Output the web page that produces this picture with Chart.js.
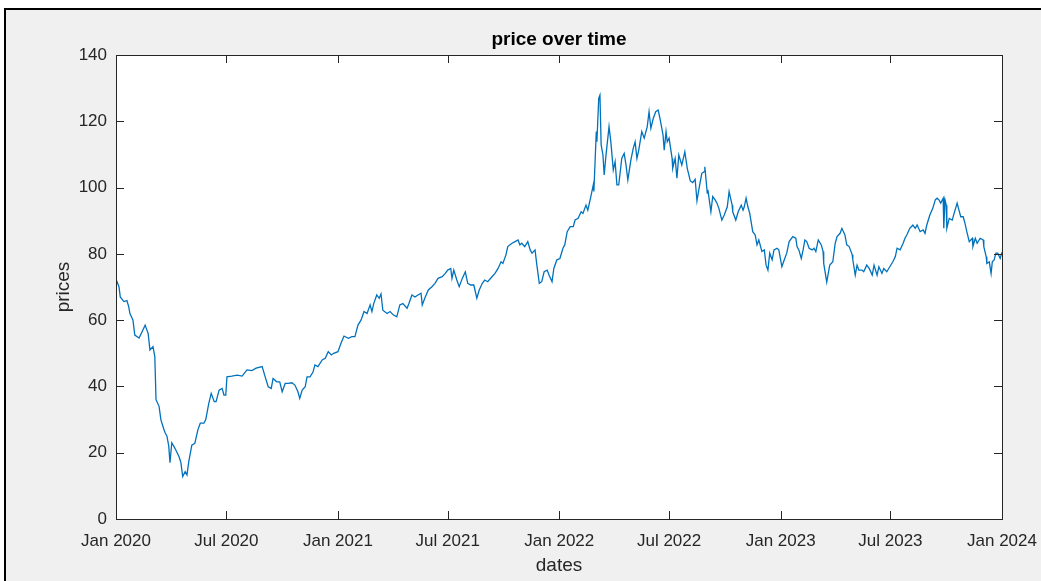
<!DOCTYPE html>
<html>
<head>
<meta charset="utf-8">
<script src="https://cdn.jsdelivr.net/npm/chart.js@4"></script>
<style>
html, body { margin: 0; padding: 0; background: #fff; overflow: hidden; }
#frame { position: absolute; left: 4px; top: 8px; width: 1200px; height: 800px; background: #f0f0f0; border: 2px solid #000; }
#chart { position: absolute; left: 0; top: 0; }
</style>
</head>
<body>
<div id="frame"></div>
<canvas id="chart" width="1041" height="581"></canvas>
<script>
// days since 1 Jan 2020 and the price for that day
const days = [0, 2, 5, 7, 13, 18, 21, 23, 28, 31, 38, 43, 48, 53, 56, 61, 64, 66, 71, 74, 79, 81, 84, 87, 89, 92, 97, 104, 107, 110, 114, 117, 120, 125, 130, 135, 139, 145, 148, 153, 157, 162, 165, 170, 175, 178, 181, 183, 191, 200, 208, 216, 224, 231, 241, 246, 251, 256, 259, 265, 270, 274, 279, 284, 290, 295, 300, 303, 307, 312, 315, 320, 325, 328, 333, 340, 345, 350, 355, 359, 366, 371, 376, 383, 389, 394, 399, 404, 409, 414, 419, 422, 425, 430, 434, 437, 440, 447, 452, 457, 463, 468, 473, 480, 483, 488, 493, 498, 503, 505, 510, 515, 521, 526, 531, 538, 543, 547, 552, 554, 557, 562, 566, 571, 576, 580, 585, 590, 595, 599, 604, 608, 613, 620, 625, 630, 635, 638, 643, 646, 653, 658, 663, 666, 669, 674, 679, 683, 686, 691, 694, 698, 702, 706, 711, 714, 719, 722, 727, 732, 737, 740, 744, 749, 754, 757, 762, 767, 770, 775, 778, 783, 787, 788, 792, 793, 796, 798, 800, 803, 805, 808, 813, 816, 820, 823, 826, 829, 834, 838, 841, 844, 849, 853, 856, 859, 862, 867, 871, 876, 879, 882, 886, 890, 894, 897, 902, 904, 907, 909, 912, 917, 918, 922, 925, 928, 933, 938, 942, 947, 951, 955, 958, 961, 966, 970, 971, 975, 976, 981, 984, 988, 991, 994, 999, 1003, 1008, 1011, 1016, 1017, 1022, 1026, 1031, 1034, 1036, 1039, 1042, 1045, 1050, 1054, 1057, 1060, 1065, 1069, 1072, 1075, 1078, 1082, 1085, 1090, 1093, 1098, 1102, 1106, 1110, 1116, 1121, 1123, 1126, 1130, 1133, 1136, 1139, 1143, 1148, 1151, 1154, 1158, 1163, 1166, 1167, 1172, 1174, 1177, 1182, 1186, 1189, 1194, 1197, 1202, 1205, 1209, 1214, 1215, 1219, 1222, 1225, 1230, 1233, 1238, 1242, 1247, 1250, 1255, 1258, 1263, 1266, 1271, 1276, 1281, 1285, 1288, 1293, 1298, 1301, 1304, 1309, 1314, 1318, 1321, 1326, 1331, 1334, 1337, 1342, 1347, 1351, 1354, 1357, 1360, 1364, 1365, 1367, 1369, 1370, 1374, 1379, 1382, 1387, 1390, 1393, 1397, 1400, 1403, 1407, 1412, 1413, 1417, 1420, 1425, 1430, 1431, 1435, 1436, 1440, 1443, 1445, 1448, 1451, 1454, 1458, 1461];
const prices = [70.5, 71.5, 70.0, 67.0, 65.6, 65.9, 64.0, 62.0, 60.0, 55.5, 54.6, 56.5, 58.5, 56.0, 51.0, 52.0, 49.0, 36.0, 34.0, 30.0, 27.0, 26.0, 25.0, 22.0, 17.0, 23.0, 21.4, 18.8, 17.0, 12.8, 14.3, 13.3, 17.3, 22.3, 22.8, 26.9, 28.9, 28.9, 30.0, 34.9, 37.9, 35.4, 35.4, 38.9, 39.4, 37.4, 37.4, 42.9, 43.1, 43.4, 43.1, 45.0, 44.8, 45.5, 46.0, 42.9, 39.9, 39.4, 42.4, 41.4, 41.4, 38.4, 40.9, 40.9, 41.1, 40.4, 38.4, 36.4, 38.9, 39.9, 42.9, 42.9, 44.4, 46.5, 46.0, 48.0, 48.5, 50.5, 49.5, 50.0, 50.5, 53.0, 55.2, 54.5, 55.0, 55.0, 58.5, 60.0, 62.6, 62.0, 64.6, 62.6, 65.0, 67.6, 66.6, 67.9, 63.0, 62.0, 62.6, 61.6, 61.0, 64.6, 65.0, 63.6, 65.0, 67.6, 67.0, 67.6, 68.1, 64.6, 67.0, 69.1, 70.1, 71.1, 72.6, 73.1, 74.1, 75.1, 75.6, 72.6, 75.1, 72.1, 70.1, 72.6, 74.6, 71.1, 70.6, 70.6, 66.6, 69.1, 71.1, 72.1, 71.6, 73.1, 74.1, 75.6, 77.6, 77.1, 79.7, 82.2, 83.2, 83.7, 84.2, 82.7, 83.2, 82.2, 83.7, 81.2, 80.2, 81.2, 76.6, 71.1, 71.6, 74.6, 75.1, 73.6, 71.6, 75.6, 78.2, 78.6, 81.7, 82.7, 86.7, 88.2, 88.2, 90.2, 90.7, 92.7, 92.2, 94.7, 93.2, 97.3, 100.8, 98.8, 116.9, 113.8, 126.9, 127.9, 112.9, 109.8, 103.8, 109.8, 118.4, 113.8, 105.3, 107.8, 100.8, 100.8, 108.8, 110.3, 106.8, 102.3, 108.3, 111.9, 113.8, 108.8, 111.3, 116.9, 114.9, 118.4, 122.9, 117.9, 120.9, 122.9, 123.4, 120.9, 115.9, 111.3, 116.9, 113.8, 114.9, 108.8, 105.8, 108.8, 102.8, 109.8, 106.8, 110.8, 105.8, 102.0, 101.5, 102.5, 96.0, 99.3, 104.3, 104.8, 106.3, 98.3, 99.3, 92.7, 97.3, 96.3, 95.3, 93.8, 90.2, 91.7, 94.2, 98.8, 94.7, 92.7, 90.2, 92.7, 94.7, 93.2, 94.2, 96.8, 94.2, 92.2, 86.7, 85.7, 82.7, 84.2, 80.7, 81.2, 76.6, 75.1, 80.2, 78.2, 81.2, 81.7, 81.2, 76.1, 78.2, 80.2, 83.7, 85.2, 84.7, 82.2, 81.2, 78.6, 81.2, 84.2, 83.7, 81.7, 81.2, 81.7, 80.7, 84.2, 82.7, 80.7, 77.1, 71.5, 73.6, 76.6, 77.6, 83.2, 85.2, 86.2, 87.7, 85.7, 82.7, 82.2, 79.7, 78.2, 73.6, 76.6, 75.1, 75.1, 74.6, 76.6, 75.6, 73.6, 76.6, 73.6, 76.1, 74.1, 75.6, 74.6, 76.1, 77.6, 79.1, 81.7, 81.2, 83.2, 84.7, 85.7, 87.7, 88.7, 87.7, 88.7, 86.7, 87.2, 86.2, 88.7, 91.7, 93.8, 96.3, 96.8, 96.3, 95.3, 96.8, 87.7, 96.3, 94.7, 87.7, 90.7, 90.2, 92.2, 95.3, 93.2, 91.2, 91.2, 89.2, 86.7, 83.7, 84.7, 82.2, 84.7, 83.2, 84.7, 84.2, 82.2, 79.1, 77.1, 77.6, 74.1, 77.6, 78.2, 80.2, 80.2, 78.6, 80.5];

const tickDays = [0, 182, 366, 547, 731, 912, 1096, 1277, 1461];
const tickLabels = ['Jan 2020', 'Jul 2020', 'Jan 2021', 'Jul 2021', 'Jan 2022', 'Jul 2022', 'Jan 2023', 'Jul 2023', 'Jan 2024'];
const priceTicks = [0, 20, 40, 60, 80, 100, 120, 140];

const FONT = "'Liberation Sans', Arial, Helvetica, sans-serif";
const AXIS = '#262626';

// white plot box, outline and inward tick marks on all four sides
const matlabAxes = {
    id: 'matlabAxes',
    beforeDatasetsDraw(chart) {
        const a = chart.chartArea;
        const ctx = chart.ctx;
        ctx.save();
        ctx.fillStyle = '#fff';
        ctx.fillRect(a.left, a.top, a.right - a.left, a.bottom - a.top);
        ctx.restore();
    },
    afterDatasetsDraw(chart) {
        const a = chart.chartArea;
        const ctx = chart.ctx;
        const xs = chart.scales.x;
        const ys = chart.scales.y;
        const len = 8;
        ctx.save();
        ctx.strokeStyle = AXIS;
        ctx.lineWidth = 1;
        ctx.beginPath();
        xs.ticks.forEach(t => {
            const px = Math.round(xs.getPixelForValue(t.value)) + 0.5;
            ctx.moveTo(px, a.bottom);
            ctx.lineTo(px, a.bottom - len);
            ctx.moveTo(px, a.top);
            ctx.lineTo(px, a.top + len);
        });
        ys.ticks.forEach(t => {
            const py = Math.round(ys.getPixelForValue(t.value)) + 0.5;
            ctx.moveTo(a.left, py);
            ctx.lineTo(a.left + len, py);
            ctx.moveTo(a.right, py);
            ctx.lineTo(a.right - len, py);
        });
        ctx.stroke();
        ctx.strokeRect(Math.round(a.left) + 0.5, Math.round(a.top) + 0.5,
            Math.round(a.right - a.left), Math.round(a.bottom - a.top));
        ctx.restore();
    }
};

new Chart(document.getElementById('chart'), {
    type: 'line',
    data: {
        datasets: [{
            label: 'price',
            data: days.map((d, i) => ({ x: d, y: prices[i] })),
            borderColor: '#0072BD',
            borderWidth: 1.3,
            pointRadius: 0,
            tension: 0,
            fill: false
        }]
    },
    options: {
        responsive: false,
        animation: false,
        layout: { padding: { left: 0, right: 39, top: 0, bottom: 0 } },
        plugins: {
            legend: { display: false },
            tooltip: { enabled: false },
            title: {
                display: true,
                fullSize: false, // centre over the plot box, as MATLAB does
                text: 'price over time',
                color: '#000',
                font: { family: FONT, size: 19, weight: 'bold', lineHeight: 1.2 },
                padding: { top: 28, bottom: 4.2 }
            }
        },
        scales: {
            x: {
                type: 'linear',
                min: 0,
                max: 1461,
                grid: { display: false, drawTicks: false },
                border: { display: false },
                afterBuildTicks: s => { s.ticks = tickDays.map(v => ({ value: v })); },
                afterFit: s => { s.height = 62; s.paddingLeft = 0; s.paddingRight = 0; },
                ticks: {
                    autoSkip: false,
                    maxRotation: 0,
                    padding: 12,
                    color: AXIS,
                    font: { family: FONT, size: 17 },
                    callback: v => tickLabels[tickDays.indexOf(v)]
                },
                title: {
                    display: true,
                    text: 'dates',
                    color: AXIS,
                    font: { family: FONT, size: 19, lineHeight: 1.2 },
                    padding: { top: 0, bottom: 4 }
                }
            },
            y: {
                min: 0,
                max: 140,
                grid: { display: false, drawTicks: false },
                border: { display: false },
                afterBuildTicks: s => { s.ticks = priceTicks.map(v => ({ value: v })); },
                afterFit: s => { s.width = 116; },
                ticks: {
                    padding: 9,
                    color: AXIS,
                    font: { family: FONT, size: 17 }
                },
                title: {
                    display: true,
                    text: 'prices',
                    color: AXIS,
                    font: { family: FONT, size: 19, lineHeight: 1.2 },
                    padding: { top: 52, bottom: 0 }
                }
            }
        }
    },
    plugins: [matlabAxes]
});
</script>
</body>
</html>
